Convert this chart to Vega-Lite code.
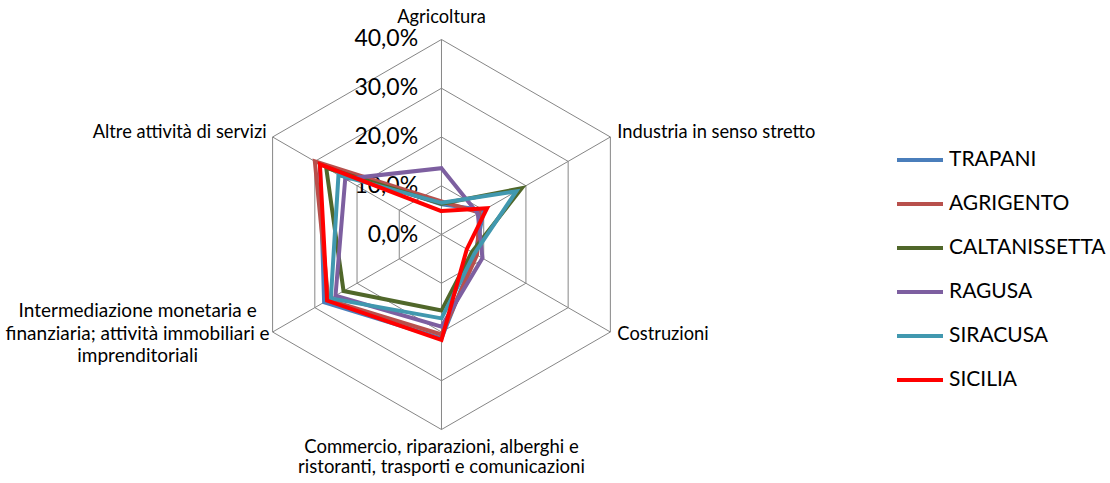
{
  "$schema": "https://vega.github.io/schema/vega-lite/v6.json",
  "width": 1110,
  "height": 483,
  "autosize": {"type": "none"},
  "padding": 0,
  "background": "white",
  "config": {"view": {"stroke": null}, "font": "Lato"},
  "datasets": {
    "valori": [
      {"provincia": "TRAPANI", "idx": 0, "valore": 6.2},
      {"provincia": "TRAPANI", "idx": 1, "valore": 10.0},
      {"provincia": "TRAPANI", "idx": 2, "valore": 8.0},
      {"provincia": "TRAPANI", "idx": 3, "valore": 21.3},
      {"provincia": "TRAPANI", "idx": 4, "valore": 27.8},
      {"provincia": "TRAPANI", "idx": 5, "valore": 28.8},
      {"provincia": "AGRIGENTO", "idx": 0, "valore": 6.8},
      {"provincia": "AGRIGENTO", "idx": 1, "valore": 9.0},
      {"provincia": "AGRIGENTO", "idx": 2, "valore": 8.4},
      {"provincia": "AGRIGENTO", "idx": 3, "valore": 20.5},
      {"provincia": "AGRIGENTO", "idx": 4, "valore": 26.8},
      {"provincia": "AGRIGENTO", "idx": 5, "valore": 30.0},
      {"provincia": "CALTANISSETTA", "idx": 0, "valore": 6.3},
      {"provincia": "CALTANISSETTA", "idx": 1, "valore": 19.0},
      {"provincia": "CALTANISSETTA", "idx": 2, "valore": 7.2},
      {"provincia": "CALTANISSETTA", "idx": 3, "valore": 15.6},
      {"provincia": "CALTANISSETTA", "idx": 4, "valore": 23.2},
      {"provincia": "CALTANISSETTA", "idx": 5, "valore": 27.3},
      {"provincia": "RAGUSA", "idx": 0, "valore": 13.6},
      {"provincia": "RAGUSA", "idx": 1, "valore": 8.6},
      {"provincia": "RAGUSA", "idx": 2, "valore": 9.7},
      {"provincia": "RAGUSA", "idx": 3, "valore": 18.9},
      {"provincia": "RAGUSA", "idx": 4, "valore": 25.1},
      {"provincia": "RAGUSA", "idx": 5, "valore": 22.8},
      {"provincia": "SIRACUSA", "idx": 0, "valore": 6.5},
      {"provincia": "SIRACUSA", "idx": 1, "valore": 17.7},
      {"provincia": "SIRACUSA", "idx": 2, "valore": 7.8},
      {"provincia": "SIRACUSA", "idx": 3, "valore": 17.2},
      {"provincia": "SIRACUSA", "idx": 4, "valore": 26.2},
      {"provincia": "SIRACUSA", "idx": 5, "valore": 24.4},
      {"provincia": "SICILIA", "idx": 0, "valore": 4.8},
      {"provincia": "SICILIA", "idx": 1, "valore": 10.8},
      {"provincia": "SICILIA", "idx": 2, "valore": 6.0},
      {"provincia": "SICILIA", "idx": 3, "valore": 21.6},
      {"provincia": "SICILIA", "idx": 4, "valore": 27.1},
      {"provincia": "SICILIA", "idx": 5, "valore": 28.8}
    ],
    "settori": [
      {"idx": 0, "settore": "Agricoltura", "gruppo": "top", "livelli": [10, 20, 30, 40], "raggio": [0, 40]},
      {"idx": 1, "settore": "Industria in senso stretto", "gruppo": "right", "livelli": [10, 20, 30, 40], "raggio": [0, 40]},
      {"idx": 2, "settore": "Costruzioni", "gruppo": "right2", "livelli": [10, 20, 30, 40], "raggio": [0, 40]},
      {"idx": 3, "settore": "Commercio, riparazioni, alberghi e\nristoranti, trasporti e comunicazioni", "gruppo": "bottom", "livelli": [10, 20, 30, 40], "raggio": [0, 40]},
      {"idx": 4, "settore": "Intermediazione monetaria e\nfinanziaria; attività immobiliari e\nimprenditoriali", "gruppo": "left2", "livelli": [10, 20, 30, 40], "raggio": [0, 40]},
      {"idx": 5, "settore": "Altre attività di servizi", "gruppo": "left", "livelli": [10, 20, 30, 40], "raggio": [0, 40]}
    ],
    "tacche": [
      {"livello": 0, "etichetta": "0,0%"},
      {"livello": 10, "etichetta": "10,0%"},
      {"livello": 20, "etichetta": "20,0%"},
      {"livello": 30, "etichetta": "30,0%"},
      {"livello": 40, "etichetta": "40,0%"}
    ]
  },
  "layer": [
    {
      "data": {"name": "settori"},
      "transform": [
        {"flatten": ["livelli"], "as": ["livello"]},
        {"calculate": "datum.livello * sin(datum.idx * PI / 3)", "as": "px"},
        {"calculate": "datum.livello * cos(datum.idx * PI / 3)", "as": "py"}
      ],
      "mark": {"type": "line", "interpolate": "linear-closed", "color": "#868686", "strokeWidth": 1},
      "encoding": {
        "x": {"field": "px", "type": "quantitative", "scale": {"domain": [-90.56, 137.13], "nice": false, "zero": false}, "axis": null},
        "y": {"field": "py", "type": "quantitative", "scale": {"domain": [-50.97, 48.1], "nice": false, "zero": false}, "axis": null},
        "detail": {"field": "livello", "type": "nominal"},
        "order": {"field": "idx", "type": "quantitative"}
      }
    },
    {
      "data": {"name": "settori"},
      "transform": [
        {"flatten": ["raggio"], "as": ["r"]},
        {"calculate": "datum.r * sin(datum.idx * PI / 3)", "as": "px"},
        {"calculate": "datum.r * cos(datum.idx * PI / 3)", "as": "py"}
      ],
      "mark": {"type": "line", "color": "#868686", "strokeWidth": 1},
      "encoding": {
        "x": {"field": "px", "type": "quantitative"},
        "y": {"field": "py", "type": "quantitative"},
        "detail": {"field": "idx", "type": "nominal"},
        "order": {"field": "r", "type": "quantitative"}
      }
    },
    {
      "data": {"name": "tacche"},
      "mark": {"type": "text", "align": "right", "baseline": "middle", "font": "Lato", "fontSize": 23, "color": "#000000"},
      "encoding": {
        "x": {"datum": -4.8, "type": "quantitative"},
        "y": {"field": "livello", "type": "quantitative"},
        "text": {"field": "etichetta", "type": "nominal"}
      }
    },
    {
      "data": {"name": "valori"},
      "transform": [
        {"calculate": "datum.valore * sin(datum.idx * PI / 3)", "as": "px"},
        {"calculate": "datum.valore * cos(datum.idx * PI / 3)", "as": "py"}
      ],
      "mark": {"type": "line", "interpolate": "linear-closed", "strokeWidth": 4},
      "encoding": {
        "x": {"field": "px", "type": "quantitative"},
        "y": {"field": "py", "type": "quantitative"},
        "order": {"field": "idx", "type": "quantitative"},
        "color": {
          "field": "provincia",
          "type": "nominal",
          "sort": ["TRAPANI", "AGRIGENTO", "CALTANISSETTA", "RAGUSA", "SIRACUSA", "SICILIA"],
          "scale": {
            "domain": ["TRAPANI", "AGRIGENTO", "CALTANISSETTA", "RAGUSA", "SIRACUSA", "SICILIA"],
            "range": ["#4A7EBB", "#B8504C", "#50672A", "#7D5FA0", "#4198AF", "#FF0000"]
          },
          "legend": {
            "title": null,
            "orient": "none",
            "legendX": 898,
            "legendY": 138,
            "padding": 0,
            "symbolType": "M-1.15,0H1.15",
            "symbolSize": 1600,
            "symbolStrokeWidth": 4,
            "rowPadding": 12,
            "labelOffset": 7,
            "labelFont": "Lato",
            "labelFontSize": 21,
            "labelColor": "#000000",
            "labelLimit": 300
          }
        }
      }
    },
    {
      "data": {"name": "settori"},
      "transform": [
        {"filter": "datum.gruppo === 'top'"},
        {"calculate": "40 * sin(datum.idx * PI / 3)", "as": "px"},
        {"calculate": "40 * cos(datum.idx * PI / 3)", "as": "py"}
      ],
      "mark": {"type": "text", "align": "center", "baseline": "middle", "dy": -21, "font": "Lato", "fontSize": 18.3, "color": "#000000"},
      "encoding": {
        "x": {"field": "px", "type": "quantitative"},
        "y": {"field": "py", "type": "quantitative"},
        "text": {"field": "settore", "type": "nominal"}
      }
    },
    {
      "data": {"name": "settori"},
      "transform": [
        {"filter": "datum.gruppo === 'right'"},
        {"calculate": "40 * sin(datum.idx * PI / 3)", "as": "px"},
        {"calculate": "40 * cos(datum.idx * PI / 3)", "as": "py"}
      ],
      "mark": {"type": "text", "align": "left", "baseline": "middle", "dx": 7, "dy": -4, "font": "Lato", "fontSize": 18.3, "color": "#000000"},
      "encoding": {
        "x": {"field": "px", "type": "quantitative"},
        "y": {"field": "py", "type": "quantitative"},
        "text": {"field": "settore", "type": "nominal"}
      }
    },
    {
      "data": {"name": "settori"},
      "transform": [
        {"filter": "datum.gruppo === 'right2'"},
        {"calculate": "40 * sin(datum.idx * PI / 3)", "as": "px"},
        {"calculate": "40 * cos(datum.idx * PI / 3)", "as": "py"}
      ],
      "mark": {"type": "text", "align": "left", "baseline": "middle", "dx": 7, "dy": 3, "font": "Lato", "fontSize": 18.3, "color": "#000000"},
      "encoding": {
        "x": {"field": "px", "type": "quantitative"},
        "y": {"field": "py", "type": "quantitative"},
        "text": {"field": "settore", "type": "nominal"}
      }
    },
    {
      "data": {"name": "settori"},
      "transform": [
        {"filter": "datum.gruppo === 'bottom'"},
        {"calculate": "40 * sin(datum.idx * PI / 3)", "as": "px"},
        {"calculate": "40 * cos(datum.idx * PI / 3)", "as": "py"}
      ],
      "mark": {"type": "text", "align": "center", "baseline": "top", "dy": 8, "lineBreak": "\n", "lineHeight": 20, "font": "Lato", "fontSize": 18.5, "color": "#000000"},
      "encoding": {
        "x": {"field": "px", "type": "quantitative"},
        "y": {"field": "py", "type": "quantitative"},
        "text": {"field": "settore", "type": "nominal"}
      }
    },
    {
      "data": {"name": "settori"},
      "transform": [
        {"filter": "datum.gruppo === 'left2'"},
        {"calculate": "40 * sin(datum.idx * PI / 3)", "as": "px"},
        {"calculate": "40 * cos(datum.idx * PI / 3)", "as": "py"}
      ],
      "mark": {"type": "text", "align": "center", "baseline": "middle", "dx": -135, "dy": -21, "lineBreak": "\n", "lineHeight": 22.5, "font": "Lato", "fontSize": 19, "color": "#000000"},
      "encoding": {
        "x": {"field": "px", "type": "quantitative"},
        "y": {"field": "py", "type": "quantitative"},
        "text": {"field": "settore", "type": "nominal"}
      }
    },
    {
      "data": {"name": "settori"},
      "transform": [
        {"filter": "datum.gruppo === 'left'"},
        {"calculate": "40 * sin(datum.idx * PI / 3)", "as": "px"},
        {"calculate": "40 * cos(datum.idx * PI / 3)", "as": "py"}
      ],
      "mark": {"type": "text", "align": "right", "baseline": "middle", "dx": -6, "dy": -4, "font": "Lato", "fontSize": 18.3, "color": "#000000"},
      "encoding": {
        "x": {"field": "px", "type": "quantitative"},
        "y": {"field": "py", "type": "quantitative"},
        "text": {"field": "settore", "type": "nominal"}
      }
    }
  ]
}
